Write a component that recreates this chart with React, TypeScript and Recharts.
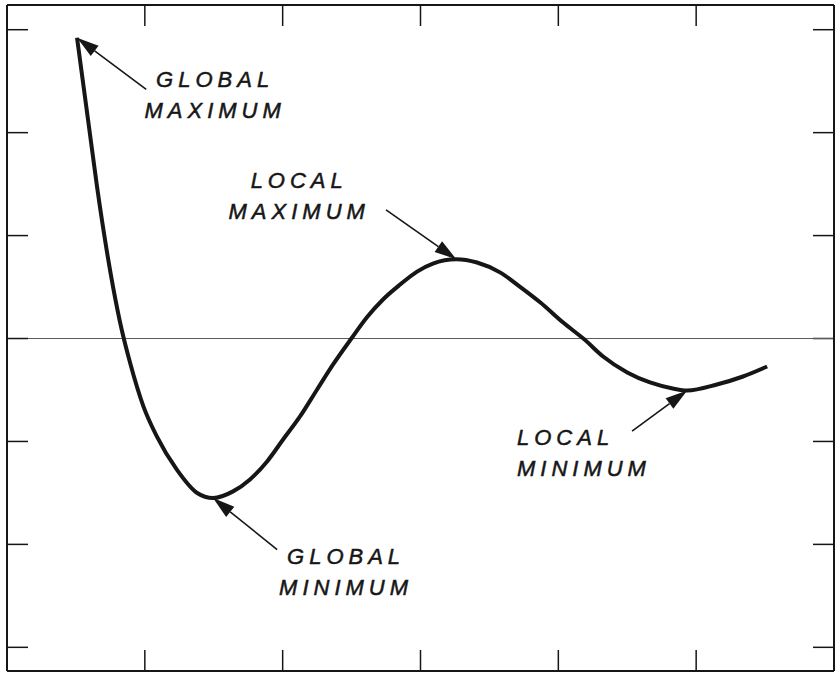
import React from "react";
import {
  LineChart,
  Line,
  XAxis,
  YAxis,
  ReferenceLine,
  ReferenceDot,
} from "recharts";

// curve (x and y in tick units)
const xValues = [
  0.508, 0.588, 0.653, 0.769, 0.832, 0.893, 0.989, 1.086, 1.231, 1.377, 1.495,
  1.64, 1.763, 1.887, 2.003, 2.126, 2.25, 2.366, 2.504, 2.61, 2.728, 2.852,
  2.975, 3.09, 3.26, 3.41, 3.58, 3.72, 3.87, 4.035, 4.19, 4.325, 4.5, 4.665,
  4.83, 4.935, 5.15, 5.34, 5.515,
];
const yValues = [
  2.922, 2.126, 1.476, 0.505, 0.087, -0.236, -0.657, -0.949, -1.272, -1.498,
  -1.55, -1.485, -1.369, -1.194, -0.981, -0.757, -0.495, -0.252, 0.01, 0.204,
  0.379, 0.524, 0.65, 0.728, 0.77, 0.738, 0.64, 0.505, 0.35, 0.155, -0.01,
  -0.175, -0.33, -0.427, -0.485, -0.505, -0.447, -0.369, -0.272,
];

const xTicks = [1, 2, 3, 4, 5];
const yTicks = [-3, -2, -1, 0, 1, 2, 3];
const xDomain = [0, 6];
const yDomain = [-3.23, 3.24];

const labelLines = [
  ["GLOBAL", "MAXIMUM"],
  ["LOCAL", "MAXIMUM"],
  ["GLOBAL", "MINIMUM"],
  ["LOCAL", "MINIMUM"],
];
// index of the point each arrow points at
const extremaIndex = [0, 24, 10, 35];

// layout of the annotations (data units)
const arrowTails = [
  [1.01, 2.42],
  [2.75, 1.25],
  [1.96, -2.05],
  [4.535, -0.9],
];
const labelAnchors = [
  { x: 1.51, y: 2.44, anchor: "middle" },
  { x: 2.12, y: 1.46, anchor: "middle" },
  { x: 2.46, y: -2.19, anchor: "middle" },
  { x: 3.7, y: -1.03, anchor: "start" },
];

const data = xValues.map((x, i) => ({ x, y: yValues[i] }));

const INK = "#161616";
const TICK_LEN = 21;
const noLabel = () => "";

function Arrow(props: any) {
  const { x1, y1, x2, y2 } = props;
  const dx = x2 - x1;
  const dy = y2 - y1;
  const len = Math.sqrt(dx * dx + dy * dy) || 1;
  const ux = dx / len;
  const uy = dy / len;
  const head = 22;
  const half = 6.5;
  const bx = x2 - ux * head;
  const by = y2 - uy * head;
  const pts = `${x2},${y2} ${bx - uy * half},${by + ux * half} ${bx + uy * half},${by - ux * half}`;
  return (
    <g>
      <line x1={x1} y1={y1} x2={bx} y2={by} stroke={INK} strokeWidth={1.6} />
      <polygon points={pts} fill={INK} />
    </g>
  );
}

// inward tick on the right frame edge (recharts draws mirrored right ticks outward)
function RightTick(props: any) {
  const { x2, y2 } = props;
  return (
    <line
      x1={x2 - TICK_LEN}
      y1={y2}
      x2={x2}
      y2={y2}
      stroke={INK}
      strokeWidth={1.5}
    />
  );
}

function AnnotationText(props: any) {
  const { cx, cy, lines, anchor } = props;
  return (
    <text
      x={cx}
      y={cy}
      textAnchor={anchor}
      fontFamily="'Liberation Sans', Arial, sans-serif"
      fontStyle="italic"
      fontSize={22}
      letterSpacing={5}
      fill={INK}
      stroke={INK}
      strokeWidth={0.5}
    >
      {lines.map((t: string, i: number) => (
        <tspan key={t + i} x={cx} dy={i === 0 ? 0 : 31}>
          {t}
        </tspan>
      ))}
    </text>
  );
}

export default function App() {
  const axisLine = { stroke: INK, strokeWidth: 2 };
  const tickLine = { stroke: INK, strokeWidth: 1.5 };
  return (
    <div style={{ width: 840, height: 675, background: "#fff" }}>
      <style>{"body{margin:0}"}</style>
      <LineChart
        width={840}
        height={675}
        data={data}
        margin={{ top: 5, right: 6, bottom: 4, left: 7 }}
      >
        <XAxis
          xAxisId="bottom"
          dataKey="x"
          type="number"
          domain={xDomain}
          ticks={xTicks}
          orientation="bottom"
          mirror
          height={20}
          tickFormatter={noLabel}
          tickSize={TICK_LEN}
          axisLine={axisLine}
          tickLine={tickLine}
        />
        <XAxis
          xAxisId="top"
          dataKey="x"
          type="number"
          domain={xDomain}
          ticks={xTicks}
          orientation="top"
          mirror
          height={20}
          tickFormatter={noLabel}
          tickSize={TICK_LEN}
          axisLine={axisLine}
          tickLine={tickLine}
        />
        <YAxis
          yAxisId="left"
          type="number"
          domain={yDomain}
          ticks={yTicks}
          orientation="left"
          mirror
          width={20}
          tickFormatter={noLabel}
          tickSize={TICK_LEN}
          axisLine={axisLine}
          tickLine={tickLine}
        />
        <YAxis
          yAxisId="right"
          type="number"
          domain={yDomain}
          ticks={yTicks}
          orientation="right"
          mirror
          width={20}
          tickFormatter={noLabel}
          tickLine={false}
          axisLine={axisLine}
        />
        {yTicks.map((t) => (
          <ReferenceLine
            key={"rt" + t}
            xAxisId="bottom"
            yAxisId="left"
            ifOverflow="visible"
            segment={[
              { x: xDomain[1] - 0.1, y: t },
              { x: xDomain[1], y: t },
            ]}
            shape={(p: any) => <RightTick {...p} />}
          />
        ))}
        <ReferenceLine
          xAxisId="bottom"
          yAxisId="left"
          y={0}
          stroke="#5a5a5a"
          strokeWidth={1.2}
        />
        <Line
          xAxisId="bottom"
          yAxisId="left"
          dataKey="y"
          type="monotone"
          stroke={INK}
          strokeWidth={4}
          dot={false}
          isAnimationActive={false}
        />
        {extremaIndex.map((idx, i) => (
          <ReferenceLine
            key={"arrow" + i}
            xAxisId="bottom"
            yAxisId="left"
            segment={[
              { x: arrowTails[i][0], y: arrowTails[i][1] },
              { x: xValues[idx], y: yValues[idx] },
            ]}
            shape={(p: any) => <Arrow {...p} />}
          />
        ))}
        {labelAnchors.map((a, i) => (
          <ReferenceDot
            key={"label" + i}
            xAxisId="bottom"
            yAxisId="left"
            x={a.x}
            y={a.y}
            r={0}
            shape={(p: any) => (
              <AnnotationText
                cx={p.cx}
                cy={p.cy}
                lines={labelLines[i]}
                anchor={a.anchor}
              />
            )}
          />
        ))}
      </LineChart>
    </div>
  );
}
